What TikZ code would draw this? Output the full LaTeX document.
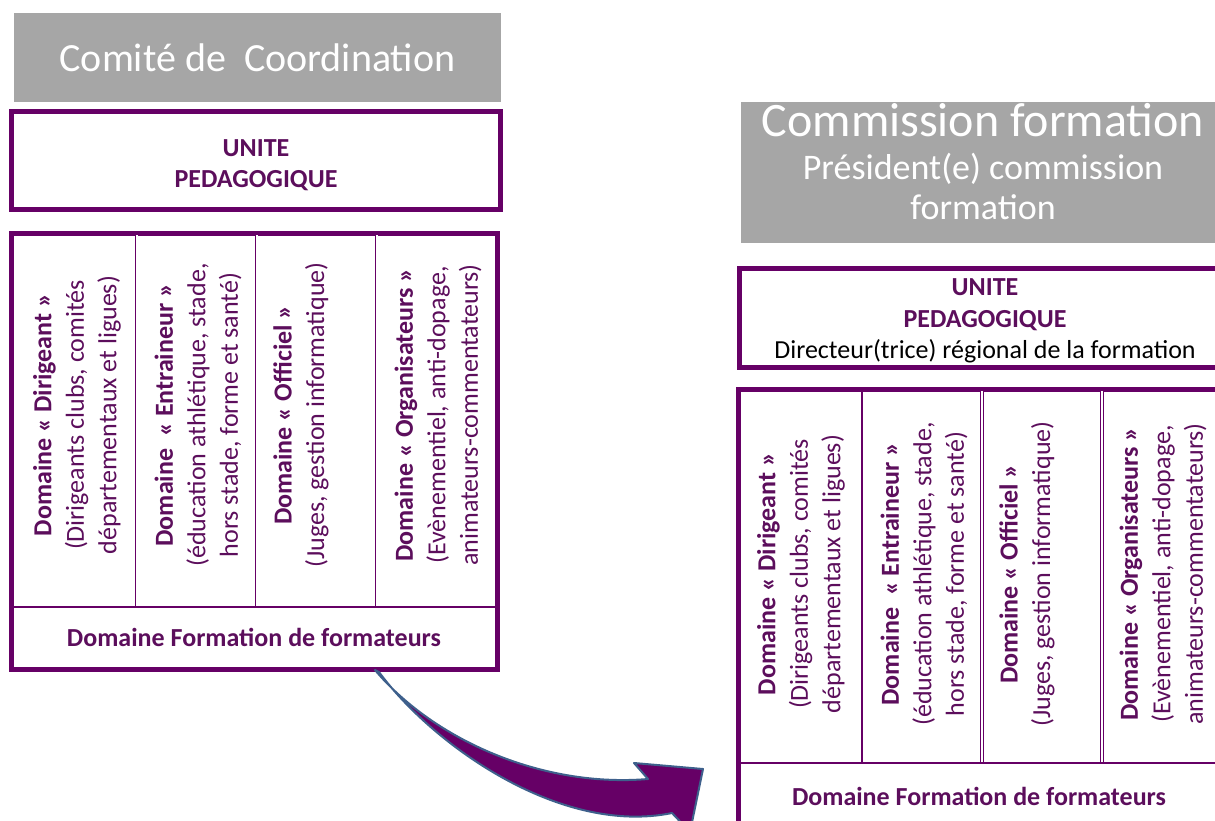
\documentclass[tikz,border=0pt]{standalone}
\usepackage{fontspec}
\setmainfont{Carlito}
\definecolor{prune}{RGB}{102,0,102}
\definecolor{texteprune}{RGB}{92,14,92}
\definecolor{gris}{RGB}{166,166,166}
\definecolor{bordfleche}{RGB}{62,96,140}

\begin{document}
\begin{tikzpicture}
			[x=1pt,y=-1pt,
			grisbox/.style={fill=gris,text=white,inner sep=0pt},
			cadre/.style={draw=prune,line width=5pt,inner sep=0pt},
			trait/.style={draw=prune,line width=2.5pt},
			simple/.style={draw=prune,line width=1.2pt},
			double trait/.style={draw=prune,line width=0.9pt,double=white,double distance=2pt},
			unite/.style={text=texteprune,align=center,font=\fontsize{26}{31.5}\selectfont\bfseries},
			domaine/.style={rotate=90,align=center,text=texteprune,font=\fontsize{26}{32.5}\selectfont},
			formateurs/.style={text=texteprune,font=\fontsize{26}{30}\selectfont\bfseries},
			fleche/.style={fill=prune,draw=bordfleche,line width=2pt,line join=round}]
			\useasboundingbox (0,0) rectangle (1215,820);
			\node[grisbox,minimum width=487pt,minimum height=89pt,font=\fontsize{40}{44}\selectfont] (comite) at (257.5,57.5) {Comité de\ \ Coordination};
			\node[cadre,minimum width=488.5pt,minimum height=97.5pt] (unitegauche) at (255.75,160.25) {};
			\node[unite] (ugtexte) at (256,165) {UNITE\\PEDAGOGIQUE};
			\node[cadre,minimum width=486pt,minimum height=436pt] (domgauche) at (254,451) {};
			\draw[trait] (11,607) -- (497,607);
			\foreach \x in {136.5,256.5,376.5}
				\draw[double trait] (\x,235) -- (\x,606);
			\node[domaine] (dirigeant) at (77,415) {\textbf{Domaine « Dirigeant »}\\(Dirigeants clubs, comités\\départementaux et ligues)};
			\node[domaine] (entraineur) at (198,415) {\textbf{Domaine\ \ « Entraineur »}\\(éducation athlétique, stade,\\hors stade, forme et santé)};
			\node[domaine] (officiel) at (301,415) {\textbf{Domaine « Officiel »}\\(Juges, gestion informatique)};
			\node[domaine] (organisateurs) at (438,415) {\textbf{Domaine « Organisateurs »}\\(Evènementiel, anti-dopage,\\animateurs-commentateurs)};
			\node[formateurs] (fgauche) at (254,637) {Domaine Formation de formateurs};
			\node[grisbox,minimum width=489pt,minimum height=141pt] (commission) at (985.5,172.5) {};
			\node[text=white,font=\fontsize{48}{52}\selectfont] (comtitre) at (983,120) {Commission formation};
			\node[text=white,font=\fontsize{36}{40}\selectfont] (president) at (983,169) {Président(e) commission};
			\node[text=white,font=\fontsize{36}{40}\selectfont] (presformation) at (983,207) {formation};
			\node[cadre,minimum width=491pt,minimum height=99pt] (unitedroite) at (984.5,317.5) {};
			\node[unite] (udtexte) at (985,321) {UNITE\\PEDAGOGIQUE\\\textcolor{black}{\mdseries Directeur(trice) régional de la formation}};
			\node[cadre,minimum width=492pt,minimum height=461pt] (domdroite) at (984,619.5) {};
			\draw[trait] (738,763) -- (1230,763);
			\draw[simple] (862,391) -- (862,762);
			\foreach \x in {982,1102}
				\draw[double trait] (\x,391) -- (\x,762);
			\node[domaine] (dirigeantd) at (801,574) {\textbf{Domaine « Dirigeant »}\\(Dirigeants clubs, comités\\départementaux et ligues)};
			\node[domaine] (entraineurd) at (924,574) {\textbf{Domaine\ \ « Entraineur »}\\(éducation athlétique, stade,\\hors stade, forme et santé)};
			\node[domaine] (officield) at (1027,574) {\textbf{Domaine « Officiel »}\\(Juges, gestion informatique)};
			\node[domaine] (organisateursd) at (1163,574) {\textbf{Domaine « Organisateurs »}\\(Evènementiel, anti-dopage,\\animateurs-commentateurs)};
			\node[formateurs] (fdroite) at (979,796) {Domaine Formation de formateurs};
			\coordinate (depart) at (375,670);
			\coordinate (pointe) at (703,769);
			\draw[fleche] (depart) .. controls (432,738) and (540,788) .. (648,779) -- (634,763) -- (pointe) -- (690,832) -- (672,813) .. controls (560,836) and (432,744) .. (379,672) -- cycle;
		\end{tikzpicture}
\end{document}
